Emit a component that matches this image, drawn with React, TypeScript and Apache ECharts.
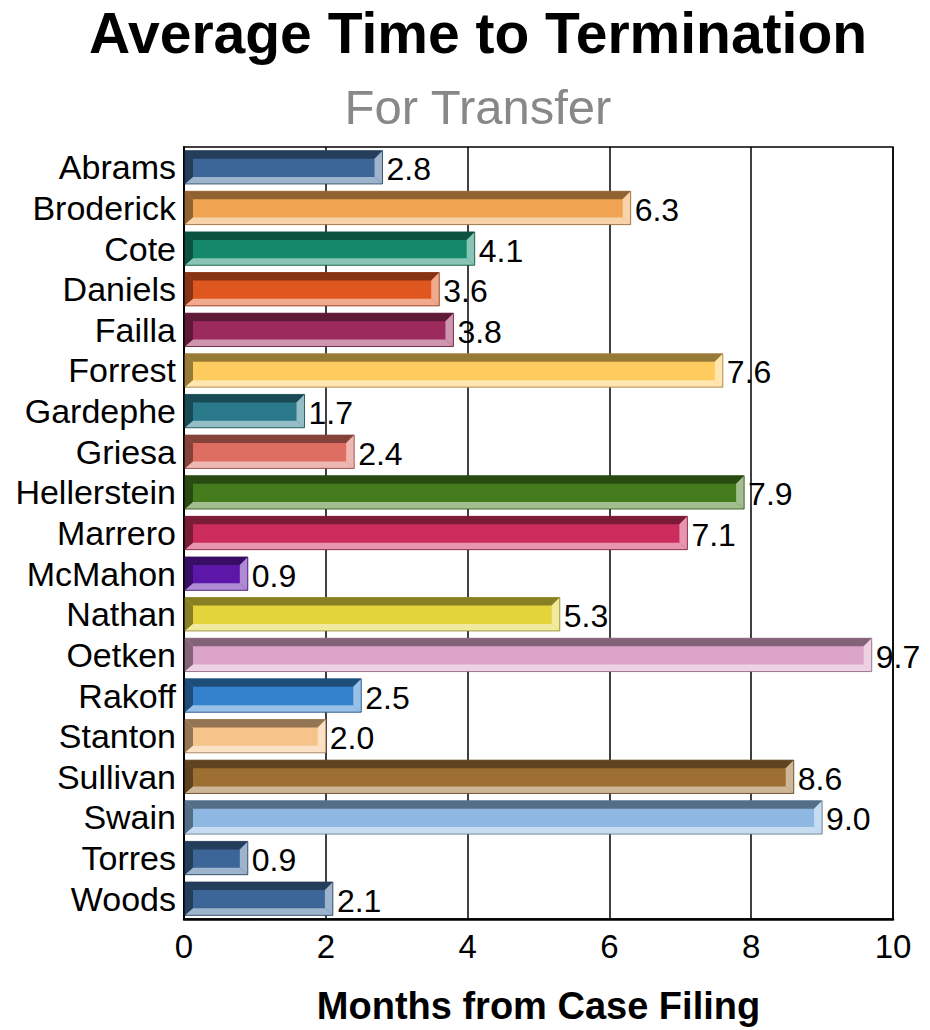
import React, { useEffect, useRef } from "react";
import * as echarts from "echarts";

const judges = ["Abrams","Broderick","Cote","Daniels","Failla","Forrest","Gardephe","Griesa","Hellerstein","Marrero","McMahon","Nathan","Oetken","Rakoff","Stanton","Sullivan","Swain","Torres","Woods"];
const months = [2.8,6.3,4.1,3.6,3.8,7.6,1.7,2.4,7.9,7.1,0.9,5.3,9.7,2.5,2.0,8.6,9.0,0.9,2.1];
const barColors = ["#3c6698","#f0a452","#13896a","#e0561f","#9c2a5c","#fecb5e","#2a7a8c","#de6e62","#457c1d","#cc2d5c","#5d17a8","#e3d43c","#dca4c8","#3380cc","#f6c38a","#9d6f32","#8eb7e2","#3c6698","#3c6698"];
const xTicks = [0, 2, 4, 6, 8, 10];

const FONT = "Liberation Sans, Arial, sans-serif";

function hexToRgb(h: string) {
  const n = parseInt(h.slice(1), 16);
  return [(n >> 16) & 255, (n >> 8) & 255, n & 255];
}
function rgb(c: number[]) {
  return "rgb(" + c.map((v) => Math.round(v)).join(",") + ")";
}
function darken(h: string) {
  return rgb(hexToRgb(h).map((v) => v * 0.6));
}
function lighten(h: string) {
  return rgb(hexToRgb(h).map((v) => v + (255 - v) * 0.5));
}

export default function App() {
  const ref = useRef<HTMLDivElement>(null);
  useEffect(() => {
    const chart = echarts.init(ref.current!, null, { renderer: "svg" });
    const data = months.map((v, i) => [v, i]);
    chart.setOption({
      animation: false,
      title: [
        { text: "Average Time to Termination", left: 473, textAlign: "center", top: -1, textStyle: { fontFamily: FONT, fontWeight: "bold", fontSize: 57, color: "#000" } },
        { text: "For Transfer", left: 473, textAlign: "center", top: 77, textStyle: { fontFamily: FONT, fontWeight: "normal", fontSize: 49, color: "#888888" } },
      ],
      grid: { left: 184, right: 37, top: 147, bottom: 108, show: true, borderColor: "#000", borderWidth: 1.5, backgroundColor: "transparent" },
      xAxis: {
        type: "value",
        min: 0,
        max: 10,
        interval: 2,
        name: "Months from Case Filing",
        nameLocation: "middle",
        nameGap: 68,
        nameTextStyle: { fontFamily: FONT, fontWeight: "bold", fontSize: 38, color: "#000" },
        axisLine: { show: true, lineStyle: { color: "#000", width: 2.5 } },
        axisTick: { show: false },
        axisLabel: { fontFamily: FONT, fontSize: 33, color: "#000", margin: 11, formatter: (v: number) => (xTicks.includes(v) ? String(v) : "") },
        splitLine: { show: true, lineStyle: { color: "#000", width: 1.5 } },
      },
      yAxis: {
        type: "category",
        data: judges,
        inverse: true,
        axisLine: { show: true, lineStyle: { color: "#000", width: 2 } },
        axisTick: { show: false },
        axisLabel: { fontFamily: FONT, fontSize: 34, color: "#000", margin: 8, interval: 0, hideOverlap: false },
        splitLine: { show: false },
      },
      series: [
        {
          type: "custom",
          data,
          encode: { x: 0, y: 1 },
          renderItem: (params: any, api: any) => {
            const v = api.value(0);
            const idx = api.value(1);
            const p0 = api.coord([0, idx]);
            const p1 = api.coord([v, idx]);
            const band = api.size([0, 1])[1];
            const h = band * 0.82;
            const x0 = p0[0] + 1;
            const x1 = p1[0];
            const y0 = p0[1] - h / 2;
            const y1 = p0[1] + h / 2;
            const b = Math.min(8, (x1 - x0) / 2);
            const bt = 8;
            const bb = 7;
            const col = barColors[idx];
            const dk = darken(col);
            const lt = lighten(col);
            const label = v.toFixed(1);
            return {
              type: "group",
              children: [
                { type: "rect", shape: { x: x0, y: y0, width: x1 - x0, height: h }, style: { fill: col } },
                { type: "polygon", shape: { points: [[x0, y0], [x1, y0], [x1 - b, y0 + bt], [x0 + b, y0 + bt]] }, style: { fill: dk } },
                { type: "polygon", shape: { points: [[x0, y0], [x0 + b, y0 + bt], [x0 + b, y1 - bb], [x0, y1]] }, style: { fill: dk } },
                { type: "polygon", shape: { points: [[x0, y1], [x0 + b, y1 - bb], [x1 - b, y1 - bb], [x1, y1]] }, style: { fill: lt } },
                { type: "polygon", shape: { points: [[x1, y0], [x1, y1], [x1 - b, y1 - bb], [x1 - b, y0 + bt]] }, style: { fill: lt } },
                { type: "rect", shape: { x: x0, y: y0, width: x1 - x0, height: h }, style: { fill: "none", stroke: dk, lineWidth: 0.8 } },
                { type: "text", style: { text: label, x: x1 + 4, y: p0[1] + 2, verticalAlign: "middle", align: "left", fontFamily: FONT, fontSize: 32, fill: "#000" } },
              ],
            };
          },
        },
      ],
    });
    return () => chart.dispose();
  }, []);
  return <div ref={ref} style={{ position: "absolute", left: 0, top: 0, width: 930, height: 1030, background: "#fff" }} />;
}
